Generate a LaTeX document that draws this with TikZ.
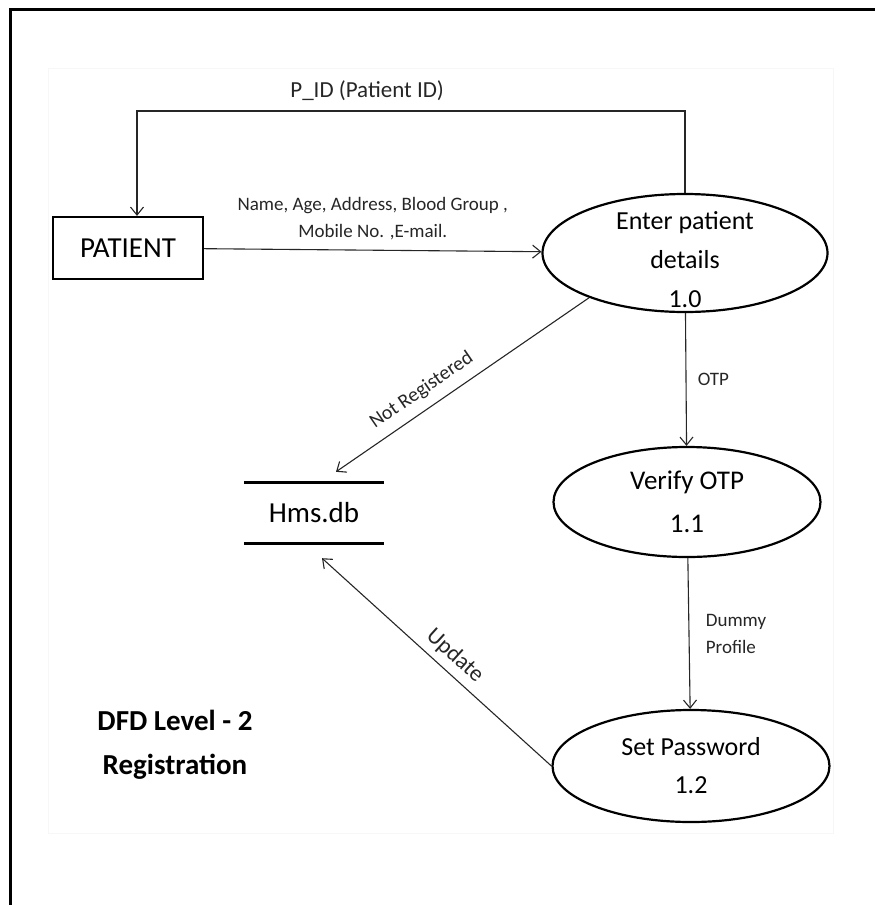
\documentclass[tikz,border=0pt]{standalone}
\usepackage{fontspec}
\setmainfont{Carlito}
\usetikzlibrary{shapes,positioning,calc}
\usetikzlibrary{arrows.meta}

\tikzset{
    process/.style={ellipse, draw, line width=2.2pt, align=center, inner xsep=0pt, inner ysep=-14pt,
        font=\fontsize{26}{39}\selectfont},
    entity/.style={rectangle, draw, line width=2.2pt, minimum width=150pt, minimum height=62pt,
        font=\fontsize{29}{32}\selectfont},
    store/.style={minimum width=140pt, minimum height=60pt, font=\fontsize{29}{32}\selectfont},
    flow/.style={-{Straight Barb[length=8pt,width=13pt]}, line width=1.1pt, black!85},
    lbl/.style={font=\fontsize{19}{27}\selectfont, text=black!85}
}

\begin{document}
\begin{tikzpicture}[x=1pt,y=-1pt]
    \useasboundingbox (0,0) rectangle (875,905);
    \draw[line width=3pt] (10,905) -- (10,9) -- (875,9);
    \draw[black!3, line width=1pt] (48,68) rectangle (833,833);

    % External entity and data store
    \node[entity] (patient) at (128,248) {PATIENT};
    \node[store] (hms) at (314,513) {Hms.db};
    \draw[line width=3pt] (hms.north west) -- (hms.north east)
        (hms.south west) -- (hms.south east);

    % Processes
    \node[process, minimum width=285pt, minimum height=118pt, text height=108pt, text depth=0pt] (p10) at (685,253) {Enter patient\\details\\1.0};
    \node[process, minimum width=267pt, minimum height=110pt, font=\fontsize{27}{43}\selectfont] (p11) at (687,502) {Verify OTP\\1.1};
    \node[process, minimum width=277pt, minimum height=112pt, font=\fontsize{26}{38}\selectfont] (p12) at (691,766) {Set Password\\1.2};

    \node[font=\bfseries\fontsize{29}{44}\selectfont, align=center] (title) at (175,745) {DFD Level - 2\\Registration};

    % Patient details in
    \draw[flow] (patient) -- node[lbl, above=6pt, align=center] {Name, Age, Address, Blood Group ,\\Mobile No. ,E-mail.} (p10);

    % P_ID back to patient
    \coordinate (pidcorner) at (137,111);
    \draw[flow] (p10.north) |- node[lbl, above=6pt, pos=0.79, font=\fontsize{23}{25}\selectfont] {P\_ID (Patient ID)} (pidcorner)
        -- (pidcorner |- patient.north);

    % Flows between processes
    \draw[flow] (p10) -- node[lbl, right=8pt] {OTP} (p11);
    \draw[flow] (p11) -- node[lbl, right=13pt, align=left] {Dummy\\Profile} (p12);

    % Flows to the data store
    \draw[flow] (p10.205) -- node[lbl, sloped, above=6pt, pos=0.62, font=\fontsize{20}{25}\selectfont] {Not Registered} ([xshift=22pt,yshift=11pt]hms.north);
    \draw[flow] (p12.west) -- node[lbl, sloped, above=3pt, pos=0.47, font=\fontsize{23}{25}\selectfont] {Update} ([xshift=8pt,yshift=-15pt]hms.south);
\end{tikzpicture}
\end{document}
